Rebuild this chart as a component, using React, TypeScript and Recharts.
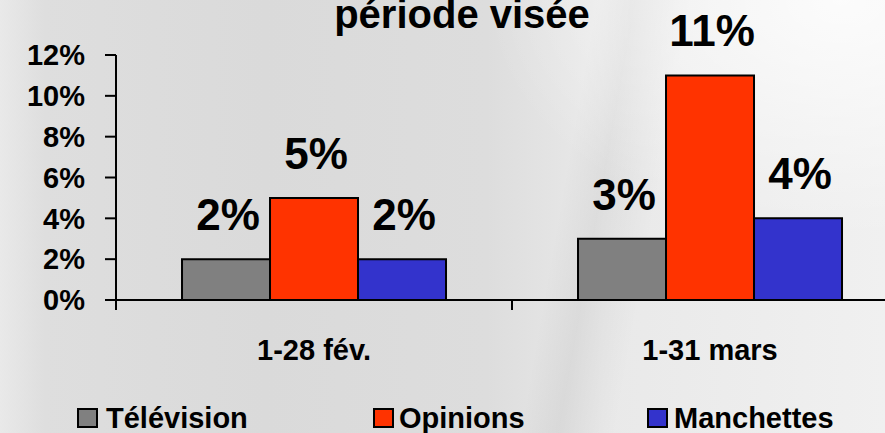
import React from "react";
import { BarChart, Bar, XAxis, YAxis, LabelList } from "recharts";

const categories = ["1-28 fév.", "1-31 mars"];
const television = [2, 3];
const opinions = [5, 11];
const manchettes = [2, 4];
const yTicks = [0, 2, 4, 6, 8, 10, 12];
const titleText = "période visée";

const seriesNames = ["Télévision", "Opinions", "Manchettes"];
const seriesKeys = ["tv", "op", "ma"];
const seriesColors = ["#808080", "#ff3300", "#3333cc"];

const data = categories.map((c, i) => ({
  cat: c,
  tv: television[i],
  op: opinions[i],
  ma: manchettes[i],
}));

const FONT = "'Liberation Sans', Arial, Helvetica, sans-serif";

const CatTick = (props: any) => {
  const { x, y, payload, index, width, visibleTicksCount } = props;
  const bw = width / (visibleTicksCount || categories.length);
  const left = x - bw / 2;
  const right = x + bw / 2;
  return (
    <g>
      <line x1={left} y1={y} x2={left} y2={y + 10} stroke="#000" strokeWidth={2} />
      {index === categories.length - 1 && (
        <line x1={right} y1={y} x2={right} y2={y + 10} stroke="#000" strokeWidth={2} />
      )}
      <text
        x={x}
        y={y + 60}
        textAnchor="middle"
        fontFamily={FONT}
        fontWeight="bold"
        fontSize={29}
        fill="#000"
      >
        {payload.value}
      </text>
    </g>
  );
};

const BarLabel = (props: any) => {
  const { x, y, width, value } = props;
  return (
    <text
      x={x + width / 2 + 2}
      y={y - 29}
      textAnchor="middle"
      fontFamily={FONT}
      fontWeight="bold"
      fontSize={44}
      fill="#000"
    >
      {`${value}%`}
    </text>
  );
};

const legendPos = [
  { sq: 78, tx: 106 },
  { sq: 374, tx: 399 },
  { sq: 648, tx: 674 },
];

export default function App() {
  return (
    <div
      style={{
        position: "absolute",
        left: 0,
        top: 0,
        width: 885,
        height: 433,
        overflow: "hidden",
        background:
          "radial-gradient(ellipse 40% 55% at 95% 0%, rgba(255,255,255,0.8) 0%, rgba(255,255,255,0) 100%)," +
          "linear-gradient(100deg, rgba(0,0,0,0) 62%, rgba(0,0,0,0.05) 66%, rgba(0,0,0,0) 72%)," +
          "linear-gradient(90deg, #e9e9e9 0%, #dedede 5%, #dadada 30%, #dddddd 55%, #e9e9e9 68%, #f0f0f0 100%)",
      }}
    >
      <BarChart
        width={924}
        height={433}
        data={data}
        margin={{ top: 55, right: 16, bottom: 0, left: 0 }}
        barCategoryGap="16.67%"
        barGap={0}
      >
        <XAxis
          dataKey="cat"
          height={133}
          axisLine={{ stroke: "#000", strokeWidth: 2 }}
          tickLine={false}
          tickSize={0}
          tickMargin={0}
          tick={<CatTick />}
          interval={0}
        />
        <YAxis
          width={116}
          domain={[0, 12]}
          ticks={yTicks}
          interval={0}
          tickFormatter={(v: number) => `${v}%`}
          axisLine={{ stroke: "#000", strokeWidth: 2 }}
          tickLine={{ stroke: "#000", strokeWidth: 2 }}
          tickSize={11}
          tickMargin={20}
          tick={{ fontFamily: FONT, fontWeight: "bold", fontSize: 29, fill: "#000" }}
        />
        {seriesKeys.map((k, i) => (
          <Bar
            key={k}
            dataKey={k}
            name={seriesNames[i]}
            fill={seriesColors[i]}
            stroke="#000"
            strokeWidth={2}
            isAnimationActive={false}
          >
            <LabelList dataKey={k} content={<BarLabel />} />
          </Bar>
        ))}
      </BarChart>
      <svg
        width={885}
        height={433}
        style={{ position: "absolute", left: 0, top: 0, pointerEvents: "none" }}
      >
        <text
          x={462}
          y={28}
          textAnchor="middle"
          fontFamily={FONT}
          fontWeight="bold"
          fontSize={40}
          fill="#000"
        >
          {titleText}
        </text>
        {seriesNames.map((n, i) => (
          <g key={n}>
            <rect
              x={legendPos[i].sq}
              y={409}
              width={19}
              height={18}
              fill={seriesColors[i]}
              stroke="#000"
              strokeWidth={2}
            />
            <text
              x={legendPos[i].tx}
              y={428}
              fontFamily={FONT}
              fontWeight="bold"
              fontSize={29}
              fill="#000"
            >
              {n}
            </text>
          </g>
        ))}
      </svg>
    </div>
  );
}
